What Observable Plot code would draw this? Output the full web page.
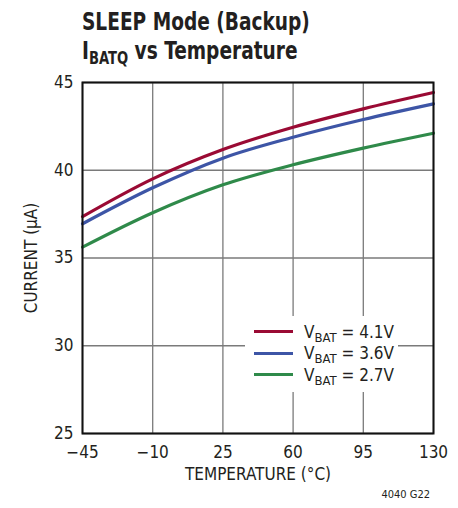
<!DOCTYPE html>
<html><head><meta charset="utf-8">
<script src="https://cdn.jsdelivr.net/npm/d3@7"></script>
<script src="https://cdn.jsdelivr.net/npm/@observablehq/plot@0.6"></script>
<style>
body{margin:0;background:#fff;font-family:"Liberation Sans Narrow","DejaVu Sans Condensed",sans-serif;}
#wrap{position:relative;width:458px;height:508px;overflow:hidden;}
#title{position:absolute;left:82px;top:8px;font-weight:bold;font-size:24px;line-height:29px;color:#231f20;white-space:nowrap;transform:scaleX(0.86);transform-origin:left top;}
#title sub{font-size:17px;vertical-align:-5px;line-height:0;}
#chart{position:absolute;left:0;top:70px;}
#legend{position:absolute;left:245px;top:316px;width:153px;height:76px;background:#fff;box-sizing:border-box;padding-top:5px;}
.row{display:flex;align-items:center;height:21.5px;font-size:17px;color:#231f20;white-space:nowrap;}
.row .sw{width:39px;height:3px;margin:0 11px 0 9px;flex:none;}
.row sub{font-size:13px;vertical-align:-4px;line-height:0;}
#caption{position:absolute;right:28px;top:488px;font-size:11px;color:#231f20;}
</style></head>
<body><div id="wrap">
<div id="title">SLEEP Mode (Backup)<br>I<sub>BATQ</sub> vs Temperature</div>
<div id="chart"></div>
<div id="legend"></div>
<div id="caption">4040 G22</div>
</div>
<script>
const temps = [-45, -10, 25, 60, 95, 130];
const series = ["4.1V", "3.6V", "2.7V"];
const colors = ["#9a0a34", "#3d55a6", "#2f8a4a"];
const i41 = [37.36, 39.51, 41.18, 42.45, 43.50, 44.43];
const i36 = [36.95, 39.00, 40.69, 41.88, 42.89, 43.78];
const i27 = [35.62, 37.58, 39.17, 40.31, 41.26, 42.11];
const xTicks = [-45, -10, 25, 60, 95, 130];
const xTickLabels = ["\u221245", "\u221210", "25", "60", "95", "130"];
const yTicks = [25, 30, 35, 40, 45];

const vals = [i41, i36, i27];
const data = [];
series.forEach((s, k) => temps.forEach((t, i) => data.push({t, v: vals[k][i], s})));

const font = '"Liberation Sans Narrow","DejaVu Sans Condensed",sans-serif';
const plot = Plot.plot({
  width: 458, height: 438,
  marginLeft: 82, marginRight: 25, marginTop: 12, marginBottom: 75,
  style: {fontFamily: font, fontSize: "17px", color: "#231f20", background: "transparent"},
  x: {domain: [-45, 130]},
  y: {domain: [25, 45]},
  color: {domain: series, range: colors},
  marks: [
    Plot.gridX(xTicks, {stroke: "#7a7a7a", strokeOpacity: 1, strokeWidth: 1.3}),
    Plot.gridY(yTicks, {stroke: "#7a7a7a", strokeOpacity: 1, strokeWidth: 1.3}),
    Plot.line(data, {x: "t", y: "v", z: "s", stroke: "s", strokeWidth: 3.2, curve: "monotone-x"}),
    Plot.frame({stroke: "#111", strokeWidth: 2}),
    Plot.axisX(xTicks, {tickSize: 0, tickPadding: 12, tickFormat: (d) => xTickLabels[xTicks.indexOf(d)], label: "TEMPERATURE (°C)", labelAnchor: "center", labelArrow: "none", labelOffset: 46, fontSize: 17}),
    Plot.axisY(yTicks, {tickSize: 0, tickPadding: 9, label: "CURRENT (µA)", labelAnchor: "center", labelArrow: "none", labelOffset: 58, fontSize: 17})
  ]
});
document.getElementById("chart").appendChild(plot);

const leg = document.getElementById("legend");
series.forEach((s, k) => {
  const r = document.createElement("div");
  r.className = "row";
  r.innerHTML = `<span class="sw" style="background:${colors[k]}"></span><span>V<sub>BAT</sub> = ${s}</span>`;
  leg.appendChild(r);
});
</script>
</body></html>
